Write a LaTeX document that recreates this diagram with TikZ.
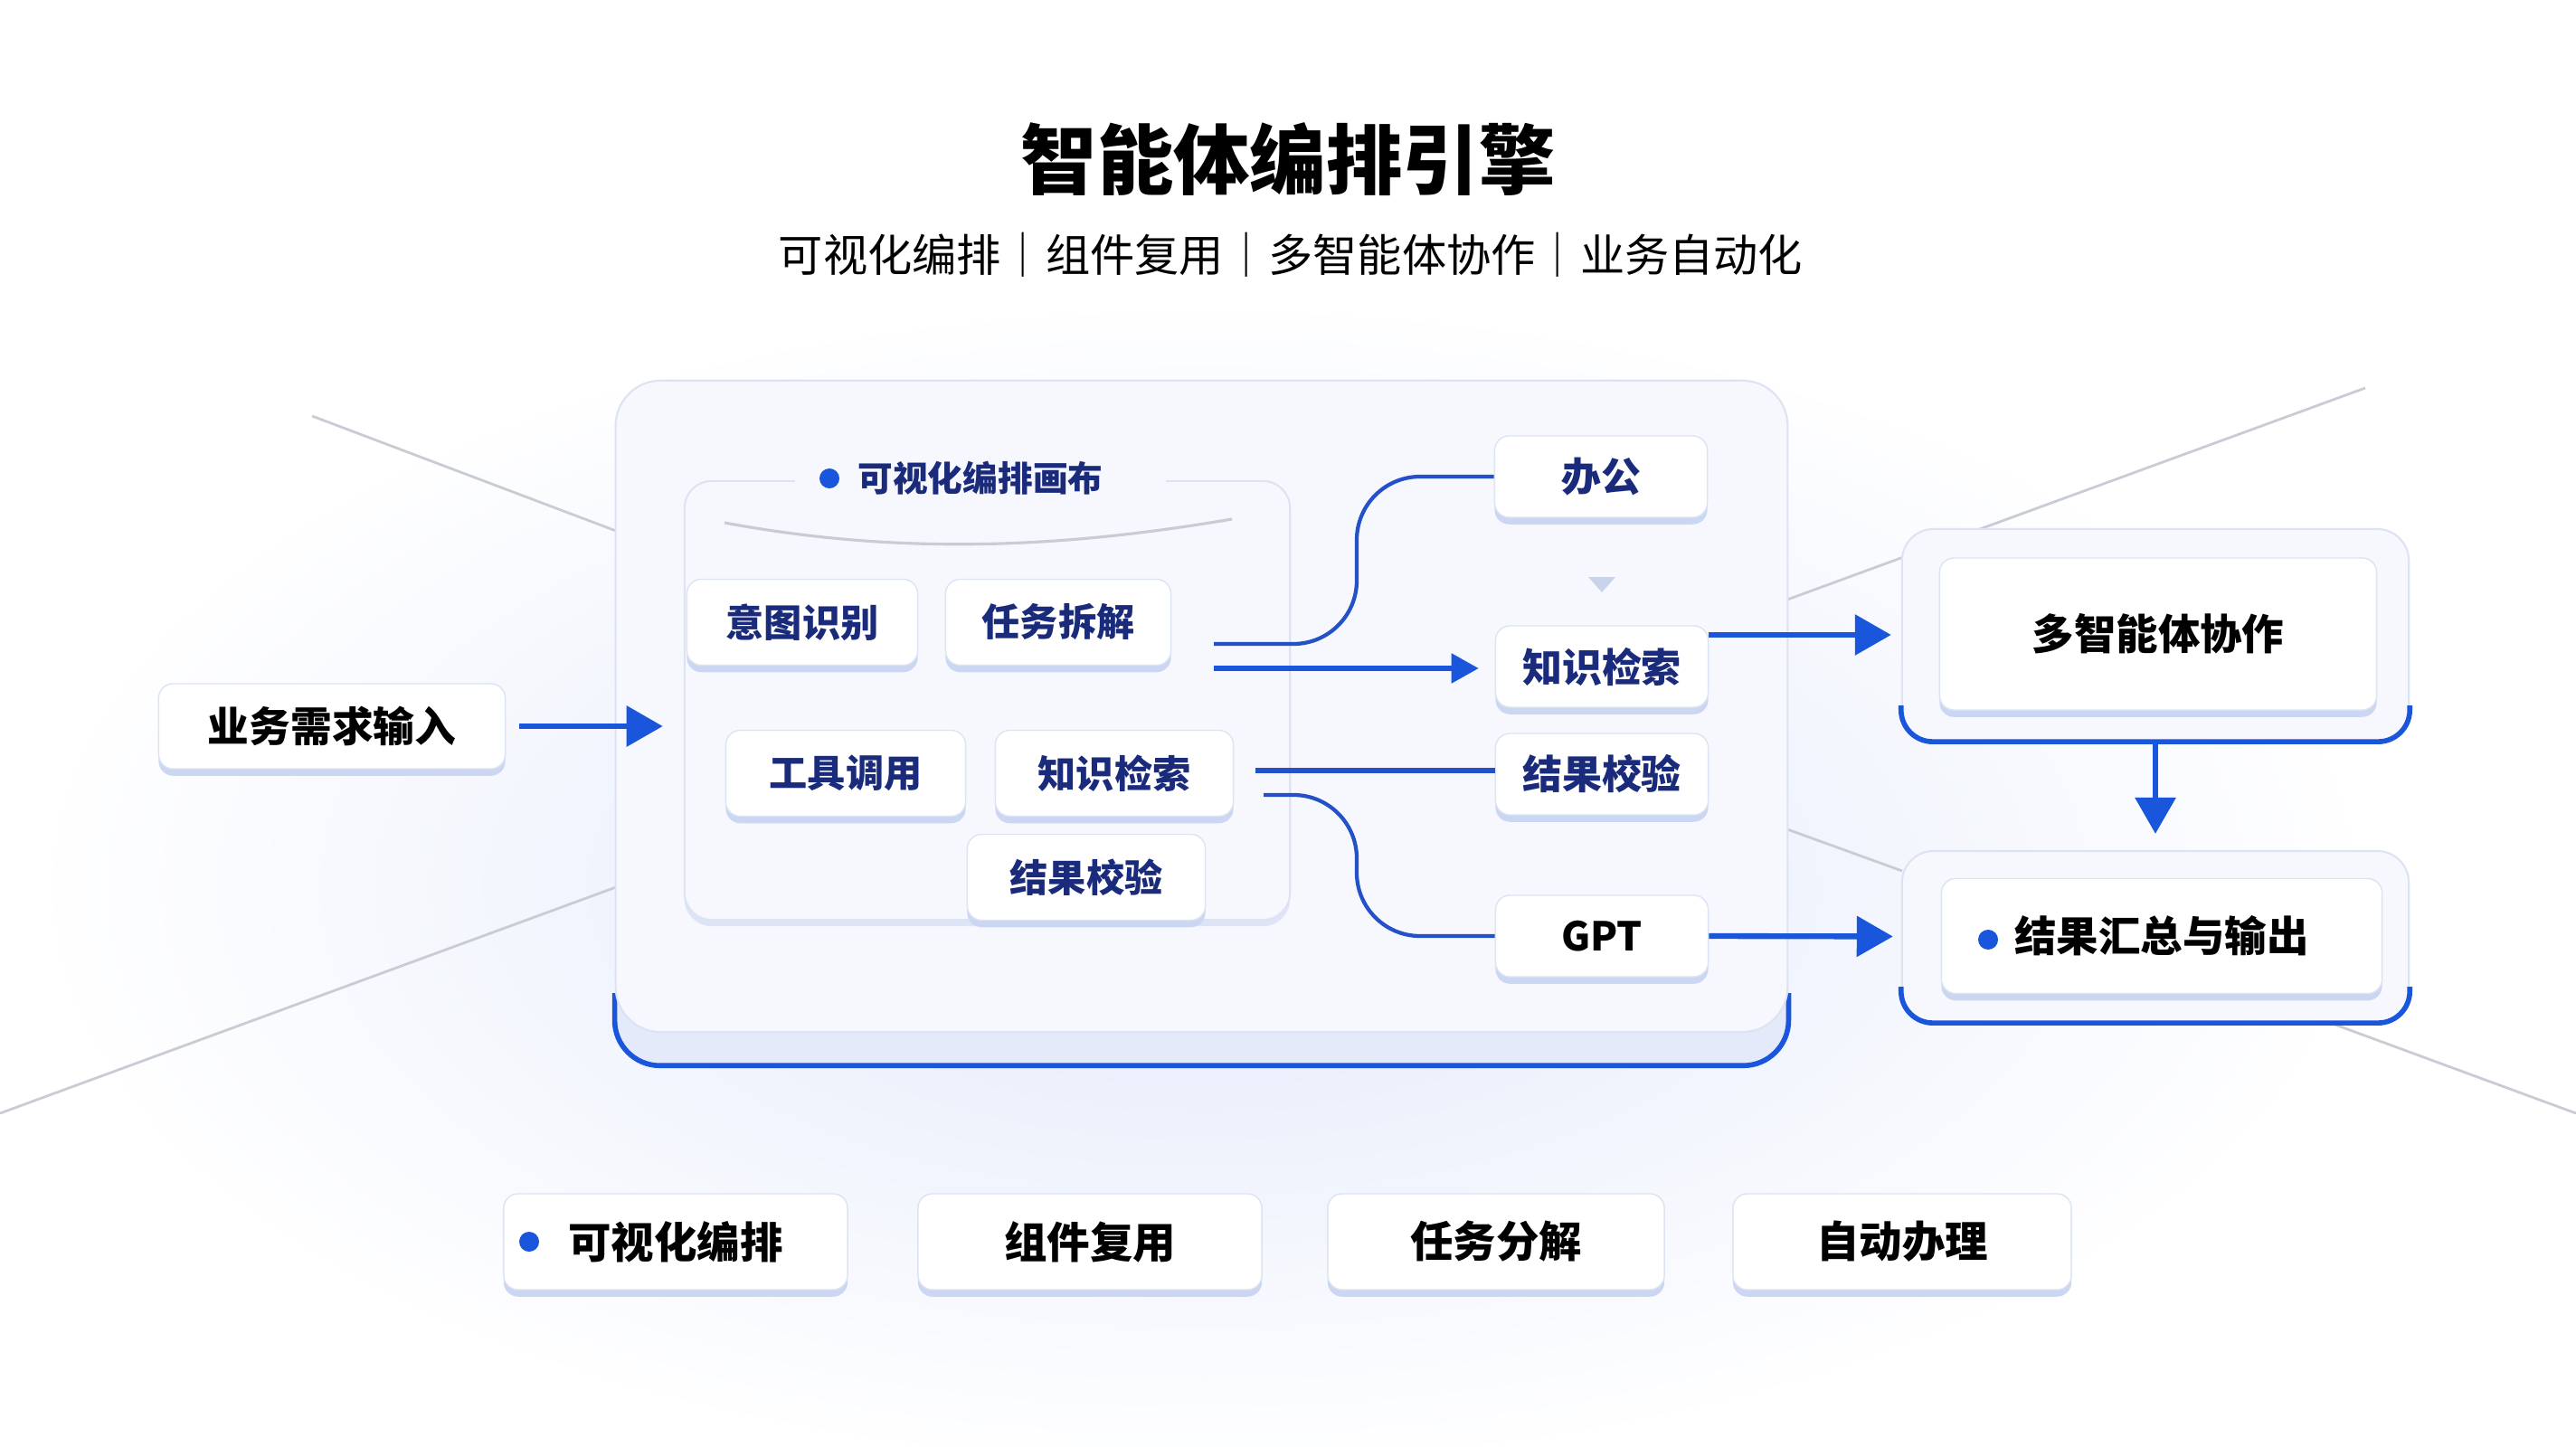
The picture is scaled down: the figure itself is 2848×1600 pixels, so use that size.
\documentclass[tikz,border=0pt]{standalone}
\usepackage{fontspec}
\setmainfont{Noto Sans CJK SC}
\usetikzlibrary{arrows.meta, positioning, shadows, calc}

\definecolor{brandblue}{HTML}{1A56DB}
\definecolor{linkblue}{HTML}{2450C8}
\definecolor{navytext}{HTML}{1B2B7C}
\definecolor{panelfill}{HTML}{F6F8FE}
\definecolor{paneledge}{HTML}{DCE3F2}
\definecolor{basefill}{HTML}{E4EAF9}
\definecolor{cardlip}{HTML}{CBD7F2}
\definecolor{decoline}{HTML}{C9CCD4}
\definecolor{glowblue}{HTML}{E2E9FA}
\definecolor{hintgray}{HTML}{C9D3EA}

\begin{document}
\begin{tikzpicture}[
  x=0.01cm, y=-0.01cm,
  card/.style={rectangle, rounded corners=0.16cm, fill=white, draw=paneledge, line width=0.4pt,
    drop shadow={shadow xshift=0pt, shadow yshift=-2.2pt, fill=cardlip, opacity=1},
    inner sep=0pt, font=\bfseries\fontsize{13}{15}\selectfont},
  stepcard/.style={card, minimum width=2.55cm, minimum height=0.95cm, text=navytext,
    font=\bfseries\fontsize{12}{14}\selectfont},
  toolcard/.style={card, minimum width=2.35cm, minimum height=0.9cm, text=navytext,
    font=\bfseries\fontsize{12.5}{14}\selectfont},
  featcard/.style={card, minimum width=3.8cm, minimum height=1.06cm,
    font=\bfseries\fontsize{13.5}{15}\selectfont},
  shell/.style={rectangle, rounded corners=0.35cm, fill=panelfill, draw=paneledge, line width=0.6pt},
  dotmark/.style={circle, fill=brandblue, minimum size=0.22cm, inner sep=0pt},
  flowarrow/.style={-{Triangle[length=0.4cm, width=0.44cm]}, brandblue, line width=1.8pt},
  link/.style={linkblue, line width=1.2pt},
  deco/.style={decoline, line width=0.8pt},
  rim/.style={brandblue, line width=1.6pt}
]

% Background
\fill[white] (0,0) rectangle (2848,1600);
\useasboundingbox (0,0) rectangle (2848,1600);
\shade[inner color=glowblue, outer color=white] (1330,980) ellipse [x radius=13cm, y radius=6.5cm];

% Background lines
\draw[deco] (345,460) -- (681,587);
\draw[deco] (0,1231) -- (681,981);
\draw[deco] (1976,663) -- (2615,429);
\draw[deco] (1976,917) -- (2103,963);
\draw[deco] (2560,1125) -- (2848,1231);

% Title
\node[font=\bfseries\fontsize{24}{28}\selectfont] (title) at (1424,176) {智能体编排引擎};
\node[font=\fontsize{14}{17}\selectfont] (subtitle) at (1427,282) {可视化编排｜组件复用｜多智能体协作｜业务自动化};

% Engine panel
\node[shell, rounded corners=0.5cm, fill=basefill, draw=none, minimum width=12.95cm, minimum height=7.56cm] (panelbase) at (1328.5,799) {};
\draw[rim, rounded corners=0.5cm] ([yshift=0.8cm]panelbase.south west) -- (panelbase.south west) -- (panelbase.south east) -- ([yshift=0.8cm]panelbase.south east);
\node[shell, rounded corners=0.5cm, minimum width=12.95cm, minimum height=7.2cm] (panel) at (1328.5,781) {};

% Canvas area
\node[shell, rounded corners=0.3cm, minimum width=6.69cm, minimum height=4.85cm,
  drop shadow={shadow xshift=0pt, shadow yshift=-2pt, fill=cardlip, opacity=0.6}] (canvas) at (1091.5,774.5) {};
\node[fill=panelfill, inner xsep=0.7cm, inner ysep=0pt, text=navytext, font=\bfseries\fontsize{11}{13}\selectfont] (cvtitle) at (1084,529) {可视化编排画布};
\node[dotmark] (cvdot) at (917,529) {};
\draw[decoline, line width=0.9pt] (801,578) .. controls (1000,615) and (1180,605) .. (1362,574);

% Steps inside canvas
\node[stepcard] (intent) at (887,688) {意图识别};
\node[stepcard, minimum width=2.49cm] (split) at (1170,688) {任务拆解};
\node[stepcard, minimum width=2.65cm] (tools) at (935,855) {工具调用};
\node[stepcard, minimum width=2.63cm] (search) at (1232,855) {知识检索};
\node[stepcard, minimum width=2.63cm] (verify) at (1201,970) {结果校验};

% Tool column
\node[toolcard] (office) at (1770,527) {办公};
\node[toolcard] (kbase) at (1771,737) {知识检索};
\node[toolcard] (check) at (1771,856) {结果校验};
\node[toolcard, text=black] (gpt) at (1771,1035) {GPT};
\fill[hintgray] (1756,638) -- (1786,638) -- (1771,655) -- cycle;

% Links
\coordinate (out1) at (1342,712);
\coordinate (out2) at (1342,739);
\coordinate (out3) at (1388,852);
\coordinate (out4) at (1397,879);
\draw[link, rounded corners=0.7cm] (out1) -- (1500,712) -- (1500,527) -- (office.west);
\draw[flowarrow, -{Triangle[length=0.3cm, width=0.32cm]}, line width=1.5pt, shorten >=0.18cm] (out2) -- (kbase.west |- out2);
\draw[link, line width=1.5pt] (out3) -- (check.west |- out3);
\draw[link, rounded corners=0.7cm] (out4) -- (1500,879) -- (1500,1035) -- (gpt.west);

% Input
\node[card, minimum width=3.83cm, minimum height=0.94cm] (req) at (367,803) {业务需求输入};

% Collaboration and output
\node[shell, minimum width=5.6cm, minimum height=2.34cm] (multishell) at (2383,702) {};
\draw[rim, rounded corners=0.35cm] ([yshift=0.4cm]multishell.south west) -- (multishell.south west) -- (multishell.south east) -- ([yshift=0.4cm]multishell.south east);
\node[card, minimum width=4.83cm, minimum height=1.68cm, font=\bfseries\fontsize{13.2}{15}\selectfont] (multi) at (2386,701) {多智能体协作};

\node[shell, minimum width=5.6cm, minimum height=1.89cm] (resultshell) at (2383,1035.5) {};
\draw[rim, rounded corners=0.35cm] ([yshift=0.4cm]resultshell.south west) -- (resultshell.south west) -- (resultshell.south east) -- ([yshift=0.4cm]resultshell.south east);
\node[card, minimum width=4.87cm, minimum height=1.27cm, font=\bfseries\fontsize{13.2}{15}\selectfont] (result) at (2390,1035) {结果汇总与输出};
\node[dotmark] (resultdot) at (2198,1039) {};

% Arrows
\draw[flowarrow, shorten <=0.15cm, shorten >=0.23cm] (req.east) -- (canvas.west |- req.east);
\draw[flowarrow, shorten >=0.11cm] (kbase.east |- multishell.west) -- (multishell.west);
\draw[flowarrow, shorten >=0.09cm] (gpt.east) -- (resultshell.west);
\draw[flowarrow, shorten >=0.18cm] (multishell.south) -- (resultshell.north);

% Feature row
\node[featcard] (feat1) at (747,1373) {可视化编排};
\node[dotmark] (feat1dot) at (585,1373) {};
\node[featcard] (feat2) at (1205,1373) {组件复用};
\node[featcard, minimum width=3.72cm] (feat3) at (1654,1373) {任务分解};
\node[featcard, minimum width=3.74cm] (feat4) at (2103,1373) {自动办理};

\end{tikzpicture}
\end{document}
